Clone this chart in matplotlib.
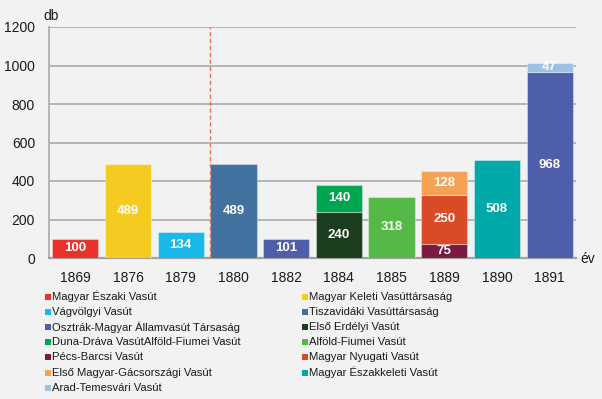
import matplotlib.pyplot as plt
from matplotlib.patches import Rectangle

plt.rcParams['font.family'] = ['Liberation Sans', 'DejaVu Sans']

years = ["1869", "1876", "1879", "1880", "1882", "1884", "1885", "1889", "1890", "1891"]

# companies in legend order (row by row)
companies = [
    "Magyar Északi Vasút", "Magyar Keleti Vasúttársaság",
    "Vágvölgyi Vasút", "Tiszavidáki Vasúttársaság",
    "Osztrák-Magyar Államvasút Társaság", "Első Erdélyi Vasút",
    "Duna-Dráva VasútAlföld-Fiumei Vasút", "Alföld-Fiumei Vasút",
    "Pécs-Barcsi Vasút", "Magyar Nyugati Vasút",
    "Első Magyar-Gácsországi Vasút", "Magyar Északkeleti Vasút",
    "Arad-Temesvári Vasút",
]
colors = [
    "#e8322a", "#f5cb22",
    "#1ab8e8", "#41719f",
    "#4f5eab", "#1c3d1e",
    "#00a54f", "#55b947",
    "#7a1a3e", "#d84b26",
    "#f5a254", "#00a8a8",
    "#9dc0e4",
]

# stacked segments per year: (company index, value), bottom to top
segments = {
    "1869": [(0, 100)],
    "1876": [(1, 489)],
    "1879": [(2, 134)],
    "1880": [(3, 489)],
    "1882": [(4, 101)],
    "1884": [(5, 240), (6, 140)],
    "1885": [(7, 318)],
    "1889": [(8, 75), (9, 250), (10, 128)],
    "1890": [(11, 508)],
    "1891": [(4, 968), (12, 47)],
}

bg = "#f2f2f2"
W, H = 602, 399
fig = plt.figure(figsize=(W / 100, H / 100), dpi=100, facecolor=bg)
ax = fig.add_axes([49 / W, 1 - 258 / H, 527 / W, 231 / H], facecolor=bg)

width = 0.875
for i, y in enumerate(years):
    bottom = 0
    for ci, v in segments[y]:
        ax.bar(i, v, width=width, bottom=bottom, color=colors[ci],
               edgecolor=(1, 1, 1, 0.35), linewidth=0.8, zorder=3)
        ax.text(i, bottom + v / 2, str(v), ha="center", va="center",
                color="white", fontsize=9.5, fontweight="bold", zorder=4)
        bottom += v

ax.set_xlim(-0.5, len(years) - 0.5)
ax.set_ylim(0, 1200)
ax.set_yticks(range(0, 1201, 200))
ax.set_xticks(range(len(years)))
ax.set_xticklabels(years)
ax.tick_params(axis="both", length=0, labelsize=10, colors="#1a1a1a")
ax.tick_params(axis="y", pad=10)
ax.tick_params(axis="x", pad=9)
ax.grid(axis="y", color="#b4b4b4", linewidth=1.4, zorder=0)
for s in ["top", "right"]:
    ax.spines[s].set_visible(False)
ax.spines["left"].set_color("#b4b4b4")
ax.spines["bottom"].set_color("#a0a0a0")
ax.spines["left"].set_linewidth(1.4)
ax.spines["bottom"].set_linewidth(1.6)

# dashed marker at the left edge of the 1880 bar
ax.axvline(3 - width / 2, color="#e8704f", linestyle=(0, (3, 2)), linewidth=1, zorder=5)

fig.text(43 / W, 1 - 16 / H, "db", fontsize=10, ha="left", va="center", color="#1a1a1a")
fig.text(580 / W, 1 - 259 / H, "év", fontsize=10, ha="left", va="center", color="#1a1a1a")

# legend drawn by hand, two columns filled row by row
col_x = [45, 302]
row_y0, row_dy = 296.5, 15.2
for k, (name, c) in enumerate(zip(companies, colors)):
    col, row = k % 2, k // 2
    x = col_x[col]
    yc = row_y0 + row * row_dy
    fig.add_artist(Rectangle((x / W, 1 - (yc + 3) / H), 6 / W, 6 / H,
                             facecolor=c, edgecolor="none", transform=fig.transFigure))
    fig.text((x + 7) / W, 1 - yc / H, name, fontsize=8.1, ha="left", va="center",
             color="#1a1a1a")

fig.savefig("out.png", dpi=100, facecolor=bg)
